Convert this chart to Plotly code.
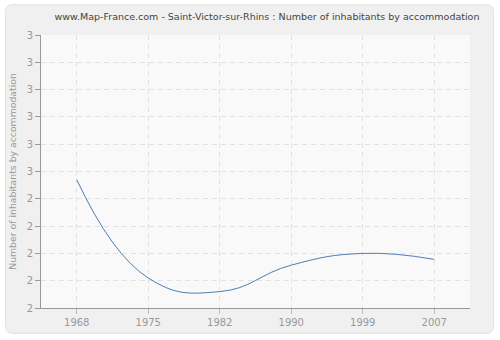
import plotly.graph_objects as go

years = ["1968", "1975", "1982", "1990", "1999", "2007"]
values = [2.47, 2.11, 2.06, 2.157, 2.2, 2.178]
y_ticks = [2.0, 2.1, 2.2, 2.3, 2.4, 2.5, 2.6, 2.7, 2.8, 2.9, 3.0]
y_labels = ["2", "2", "2", "2", "2", "3", "3", "3", "3", "3", "3"]

W, H = 500, 340
L, R, T, B = 40, 30, 35, 30
pw, ph = W - L - R, H - T - B

def px(x):
    return (x - L) / pw

def py(y):
    return (H - B - y) / ph

# rounded panel
x0, x1, y0, y1, r = 4.5, 493.5, 4.5, 335.5, 7
path = (f"M {px(x0+r)},{py(y0)} L {px(x1-r)},{py(y0)} Q {px(x1)},{py(y0)} {px(x1)},{py(y0+r)} "
        f"L {px(x1)},{py(y1-r)} Q {px(x1)},{py(y1)} {px(x1-r)},{py(y1)} "
        f"L {px(x0+r)},{py(y1)} Q {px(x0)},{py(y1)} {px(x0)},{py(y1-r)} "
        f"L {px(x0)},{py(y0+r)} Q {px(x0)},{py(y0)} {px(x0+r)},{py(y0)} Z")

fig = go.Figure()
fig.add_trace(go.Scatter(
    x=years, y=values, mode="lines",
    line=dict(color="#4f7db3", width=1, shape="spline", smoothing=1.3),
    hoverinfo="skip", showlegend=False,
))

fig.update_layout(
    width=W, height=H,
    margin=dict(l=L, r=R, t=T, b=B),
    paper_bgcolor="white",
    plot_bgcolor="rgba(0,0,0,0)",
    font=dict(family="DejaVu Sans", size=10, color="#999999"),
    title=dict(
        text="www.Map-France.com - Saint-Victor-sur-Rhins : Number of inhabitants by accommodation",
        x=0.534, xanchor="center", y=1 - 17 / H, yanchor="middle",
        font=dict(family="DejaVu Sans", size=9.5, color="#444444"),
    ),
    shapes=[
        dict(type="path", xref="paper", yref="paper", path=path,
             fillcolor="#f0f0f0", line=dict(color="#e2e2e2", width=1), layer="below"),
        dict(type="rect", xref="paper", yref="paper", x0=0, x1=1, y0=0, y1=1,
             fillcolor="#f9f9f9", line=dict(width=0), layer="below"),
    ],
    xaxis=dict(
        type="category", range=[-0.5, 5.5],
        showgrid=True, gridcolor="#e2e2e2", griddash="5px,4px", gridwidth=1,
        showline=True, linecolor="#999999", linewidth=1,
        ticks="outside", ticklen=5, tickcolor="#bbbbbb",
        tickfont=dict(size=10, color="#999999"),
        zeroline=False, fixedrange=True,
    ),
    yaxis=dict(
        range=[2.0, 3.0],
        tickvals=y_ticks, ticktext=y_labels,
        showgrid=True, gridcolor="#e2e2e2", griddash="5px,4px", gridwidth=1,
        showline=True, linecolor="#999999", linewidth=1,
        ticks="outside", ticklen=5, tickcolor="#999999",
        tickfont=dict(size=10, color="#999999"),
        title=dict(text="Number of inhabitants by accommodation", standoff=8,
                   font=dict(size=9.3, color="#999999")),
        zeroline=False, fixedrange=True,
    ),
)

fig.write_html("out.html")
